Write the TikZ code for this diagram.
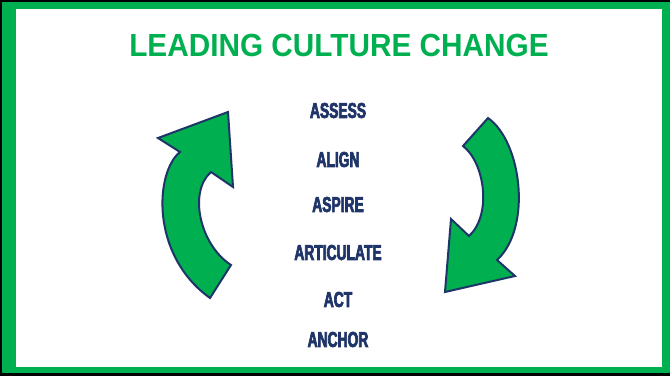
\documentclass[tikz,border=0pt]{standalone}
\usepackage{fontspec}
\usepackage{tikz}
\newfontfamily\titlefont[FakeStretch=0.93]{Liberation Sans Bold}
\newfontfamily\stepfont[FakeStretch=0.64,FakeBold=3]{Liberation Sans Bold}
\definecolor{framegreen}{HTML}{00B050}
\definecolor{navy}{HTML}{1F3468}
\tikzset{
  word/.style={text=navy,font=\stepfont\fontsize{21.6}{24}\selectfont,inner sep=0pt,anchor=center},
  bigarrow/.style={fill=framegreen,draw=navy,line width=2pt,line join=miter}
}

\begin{document}
\begin{tikzpicture}[x=1pt,y=-1pt]
\useasboundingbox (0,0) rectangle (670,376);
% frame
\fill[black] (0,0) rectangle (670,376);
\fill[framegreen] (2,2) rectangle (670,373);
\fill[white] (16,9) rectangle (662,367);
% title
\node[text=framegreen,font=\titlefont\fontsize{32}{36}\selectfont,inner sep=0pt] (title) at (339,45) {LEADING CULTURE CHANGE};
% steps
\node[word] (assess) at (338,110.5) {ASSESS};
\node[word] (align) at (338,159.5) {ALIGN};
\node[word] (aspire) at (338,204.5) {ASPIRE};
\node[word] (articulate) at (338,252.5) {ARTICULATE};
\node[word] (act) at (338,299.5) {ACT};
\node[word] (anchor) at (338,339.5) {ANCHOR};
% left arrow, pointing up
\draw[bigarrow] (210,298) .. controls (150,255) and (155,172) .. (180,152)
  -- (158,138) -- (228,112) -- (233,187) -- (211,172)
  .. controls (188,192) and (200,245) .. (231,265) -- cycle;
% right arrow, pointing down
\draw[bigarrow] (488,118) .. controls (522,142) and (532,228) .. (497,260)
  -- (515,276) -- (445,292) -- (451,219) -- (469,236)
  .. controls (492,215) and (485,163) .. (463,146) -- cycle;
\end{tikzpicture}
\end{document}
